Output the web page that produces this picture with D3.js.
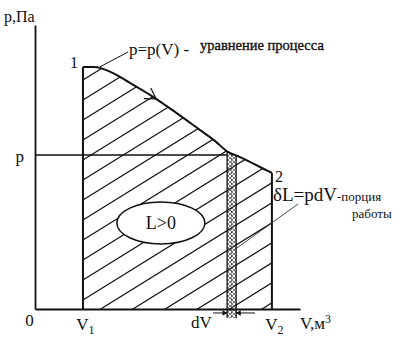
<!DOCTYPE html>
<html>
<head>
<meta charset="utf-8">
<script src="https://cdn.jsdelivr.net/npm/d3@7"></script>
<style>
  body { margin: 0; background: #fff; }
  svg { display: block; }
  svg text { font-family: "Liberation Serif", "DejaVu Serif", "Noto Serif", "Times New Roman", serif !important; fill: #111; }
</style>
</head>
<body>
<svg id="chart" width="400" height="338"></svg>
<script>
// process curve p = p(V) (V and p in arbitrary units 0..100)
var curveV = [18.1, 21.5, 24.5, 30.2, 35.8, 43.4, 52.8, 62.3, 67.9, 72.8, 77.4, 81.1, 84.9, 89.4];
var curveP = [85.2, 85.2, 84.9, 82.7, 79.6, 75.4, 69.4, 63.0, 59.2, 55.3, 53.5, 51.8, 50.0, 47.9];

var V1 = 18.1, V2 = 89.4;
var stripV = [72.5, 75.9];   // dV strip
var pLevel = 54.2;           // level p of the strip
var xTicks = [0, V1, V2];
var xTickLabels = ["0", "V1", "V2"];
var yTicks = [pLevel];
var yTickLabels = ["p"];

var svg = d3.select("#chart");

var x = d3.scaleLinear().domain([0, 100]).range([35, 300]);
var y = d3.scaleLinear().domain([0, 100]).range([309, 25]);

var pts = curveV.map(function(v, i) { return [v, curveP[i]]; });

var line = d3.line()
  .x(function(d) { return x(d[0]); })
  .y(function(d) { return y(d[1]); })
  .curve(d3.curveCatmullRom);

function under(bottom) {
  return d3.area()
    .x(function(d) { return x(d[0]); })
    .y0(y(bottom))
    .y1(function(d) { return y(d[1]); })
    .curve(d3.curveCatmullRom);
}

var defs = svg.append("defs");
defs.append("clipPath").attr("id", "clipWork")
  .append("path").attr("d", under(0)(pts));
defs.append("clipPath").attr("id", "clipStrip")
  .append("path").attr("d", under(-3.3)(pts));

var pat = defs.append("pattern").attr("id", "cross")
  .attr("patternUnits", "userSpaceOnUse")
  .attr("width", 4).attr("height", 4);
pat.append("path").attr("d", "M0,4 L4,0 M0,0 L4,4")
  .attr("stroke", "#444").attr("stroke-width", 0.7);

// diagonal hatching of the work area
var slope = 0.62, gap = 20;
var x0 = x(V1), x1 = x(V2);
var hatch = svg.append("g").attr("clip-path", "url(#clipWork)");
d3.range(-3, 19).forEach(function(k) {
  var c = 100 + gap * k;
  hatch.append("line")
    .attr("x1", x0).attr("y1", c)
    .attr("x2", x1 + 5).attr("y2", c - slope * (x1 + 5 - x0))
    .attr("stroke", "#111").attr("stroke-width", 1.2);
});

// dV strip
var strip = svg.append("g").attr("clip-path", "url(#clipStrip)");
strip.append("rect")
  .attr("x", x(stripV[0])).attr("y", y(100))
  .attr("width", x(stripV[1]) - x(stripV[0])).attr("height", y(-3.3) - y(100))
  .attr("fill", "url(#cross)");
stripV.concat([(stripV[0] + stripV[1]) / 2]).forEach(function(v, i) {
  strip.append("line")
    .attr("x1", x(v)).attr("x2", x(v))
    .attr("y1", y(100)).attr("y2", y(-3.3))
    .attr("stroke", "#111").attr("stroke-width", i < 2 ? 1.3 : 0.6)
    .attr("stroke-dasharray", i < 2 ? null : "2,1.5");
});

// p level line
svg.append("line")
  .attr("x1", x(0)).attr("x2", x(stripV[0]))
  .attr("y1", y(pLevel)).attr("y2", y(pLevel))
  .attr("stroke", "#111").attr("stroke-width", 1.5);

// V1, V2 verticals
[[V1, curveP[0]], [V2, curveP[curveP.length - 1]]].forEach(function(d) {
  svg.append("line")
    .attr("x1", x(d[0])).attr("x2", x(d[0]))
    .attr("y1", y(d[1])).attr("y2", y(0))
    .attr("stroke", "#111").attr("stroke-width", 2);
});

// process curve
svg.append("path").attr("d", line(pts))
  .attr("fill", "none").attr("stroke", "#111").attr("stroke-width", 2);

// direction arrow on the curve
var ai = 5;
var ax = x(curveV[ai]) + 6, ay = y(curveP[ai]) + 4;
var ang = Math.atan2(y(curveP[ai + 1]) - y(curveP[ai - 1]), x(curveV[ai + 1]) - x(curveV[ai - 1]));
[0.55, -0.55].forEach(function(o) {
  svg.append("line")
    .attr("x1", ax).attr("y1", ay)
    .attr("x2", ax - 12 * Math.cos(ang + o)).attr("y2", ay - 12 * Math.sin(ang + o))
    .attr("stroke", "#111").attr("stroke-width", 1.2);
});

// L>0 ellipse
svg.append("ellipse")
  .attr("cx", x(47.5)).attr("cy", y(30.3))
  .attr("rx", 44).attr("ry", 21)
  .attr("fill", "#fff").attr("stroke", "#111").attr("stroke-width", 1.5);
svg.append("text")
  .attr("x", x(47.5)).attr("y", y(30.3) + 6)
  .attr("text-anchor", "middle").style("font-size", "18px")
  .text("L>0");

// axes
var xAxis = d3.axisBottom(x).tickValues(xTicks).tickSize(0).tickSizeOuter(0).tickPadding(8)
  .tickFormat(function(d, i) { return xTickLabels[i]; });
var gx = svg.append("g").attr("transform", "translate(0," + y(0) + ")").call(xAxis);
var yAxis = d3.axisLeft(y).tickValues(yTicks).tickSize(0).tickSizeOuter(0).tickPadding(11)
  .tickFormat(function(d, i) { return yTickLabels[i]; });
var gy = svg.append("g").attr("transform", "translate(" + x(0) + ",0)").call(yAxis);

[gx, gy].forEach(function(g) {
  g.attr("font-family", null);
  g.select(".domain").attr("stroke", "#111").attr("stroke-width", 1.8);
  g.selectAll("text").style("font-size", "17px").attr("fill", "#111");
});
gy.selectAll(".tick text").attr("dy", "0.4em");
gx.selectAll(".tick text").each(function(d, i) {
  var t = d3.select(this);
  if (i === 0) { t.attr("dx", "-6px").attr("dy", "0.55em"); return; }
  var s = xTickLabels[i];
  t.text(null).attr("dy", "0.75em").attr("dx", "2px");
  t.append("tspan").text(s[0]);
  t.append("tspan").attr("dy", "4").style("font-size", "12px").text(s.slice(1));
});

// axis titles
svg.append("text").attr("x", 4).attr("y", 22).style("font-size", "16px").text("p,Па");
var vt = svg.append("text").attr("x", 300).attr("y", 329).style("font-size", "17px");
vt.append("tspan").text("V,м");
vt.append("tspan").attr("dy", "-6").style("font-size", "12px").text("3");

// point labels
svg.append("text").attr("x", x(V1) - 13).attr("y", y(curveP[0]) + 1).style("font-size", "16px").text("1");
svg.append("text").attr("x", x(V2) + 3).attr("y", y(curveP[curveP.length - 1]) + 9).style("font-size", "16px").text("2");

// p = p(V) label and leader
svg.append("line").attr("x1", x(24.5)).attr("y1", y(84.9) - 1).attr("x2", 128).attr("y2", 52)
  .attr("stroke", "#111").attr("stroke-width", 1);
svg.append("text").attr("x", 129).attr("y", 55).style("font-size", "17px").text("p=p(V) -");
svg.append("text").attr("x", 200).attr("y", 50).style("font-size", "14.5px")
  .attr("stroke", "#111").attr("stroke-width", 0.35).text("уравнение процесса");

// delta L label and leader
var dl = svg.append("text").attr("x", 273).attr("y", 201).style("font-size", "19px");
dl.append("tspan").text("δL=pdV");
dl.append("tspan").style("font-size", "13px").text("-порция");
svg.append("text").attr("x", 352).attr("y", 218).style("font-size", "13px").text("работы");
svg.append("line").attr("x1", 298).attr("y1", 204).attr("x2", x(stripV[1]) - 2).attr("y2", 250)
  .attr("stroke", "#333").attr("stroke-width", 0.9);

// dV arrows
var ya = y(-1.4);
var arrow = d3.symbol().type(d3.symbolTriangle).size(14);
[[x(stripV[0]) - 14, x(stripV[0]), 90], [x(stripV[1]) + 19, x(stripV[1]), -90]].forEach(function(a) {
  svg.append("line").attr("x1", a[0]).attr("x2", a[1]).attr("y1", ya).attr("y2", ya)
    .attr("stroke", "#111").attr("stroke-width", 1);
  svg.append("path").attr("d", arrow)
    .attr("transform", "translate(" + (a[1] + (a[2] > 0 ? -3 : 3)) + "," + ya + ") rotate(" + a[2] + ")")
    .attr("fill", "#111");
});
svg.append("text").attr("x", 191).attr("y", 328).style("font-size", "17px").text("dV");
</script>
</body>
</html>
